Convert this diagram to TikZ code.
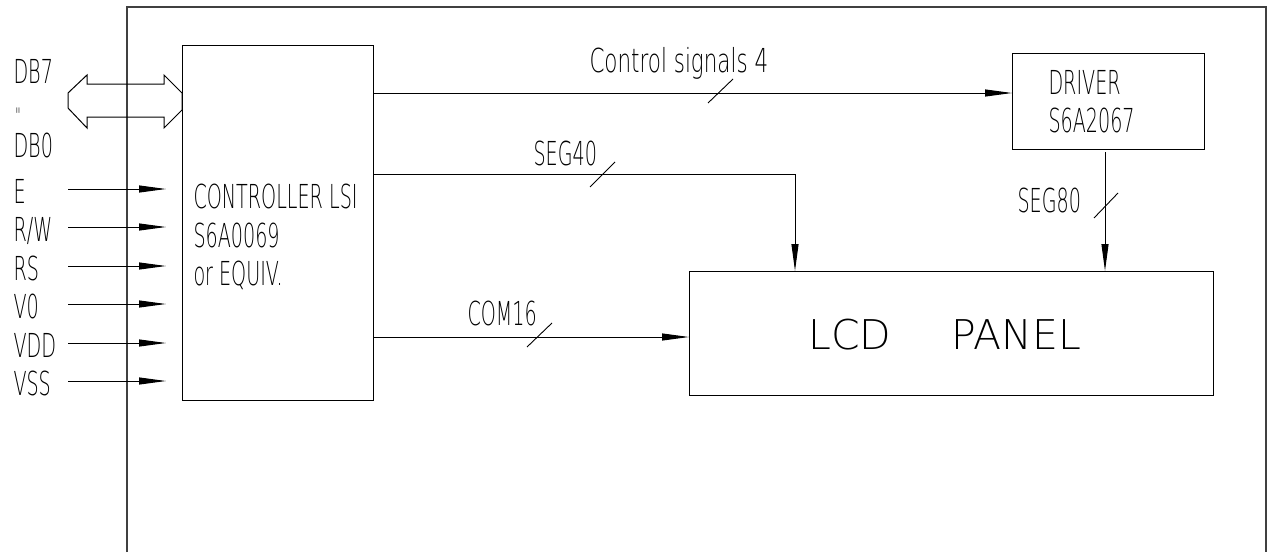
\documentclass[tikz,border=0pt]{standalone}
\usepackage{fontspec}
\setmainfont{DejaVu Sans ExtraLight}
\newfontfamily\cadn{DejaVu Sans ExtraLight}[FakeStretch=0.58]
\newfontfamily\cadw{DejaVu Sans ExtraLight}[FakeStretch=0.65]
\usetikzlibrary{arrows.meta}
\begin{document}
\begin{tikzpicture}[x=1pt,y=-1pt,line width=1pt,
  >={Triangle[length=27pt,width=7pt]},
  box/.style={draw,line width=1pt,inner sep=0pt,outer sep=0pt,anchor=north west},
  lbl/.style={anchor=base west,inner sep=0pt,font=\cadn\fontsize{33}{33}\selectfont},
  lblw/.style={anchor=base west,inner sep=0pt,font=\cadw\fontsize{33}{33}\selectfont},
  big/.style={anchor=base west,inner sep=0pt,font=\fontsize{41}{42}\selectfont},
  sig/.style={->},
  tick/.style={line width=0.9pt},
  frame/.style={line width=1.3pt,draw=black!75}]
\useasboundingbox (0,0) rectangle (1267,552);
% outer frame
\draw[frame] (127,552) -- (127,7) -- (1266,7) -- (1266,552);
% boxes
\node[box,minimum width=191pt,minimum height=355pt] (ctrl) at (182,45) {};
\node[box,minimum width=192pt,minimum height=96pt] (driver) at (1012,53) {};
\node[box,minimum width=524pt,minimum height=124pt] (lcd) at (689,271) {};
% box texts
\node[lbl] (c1) at (193,208) {CONTROLLER LSI};
\node[lbl] (c2) at (193,247) {S6A0069};
\node[lbl] (c3) at (193,285) {or EQUIV.};
\node[lbl] (d1) at (1048,94) {DRIVER};
\node[lbl] (d2) at (1048,132) {S6A2067};
\node[big] (lcdt) at (808,349) {LCD};
\node[big] (pant) at (951,349) {PANEL};
% data bus double arrow
\draw[line width=1pt] (87,84) -- (87,75) -- (68,93) -- (68,108) -- (87,128) -- (87,117)
  -- (164,117) -- (164,128) -- (182,110) -- (182,93) -- (164,75) -- (164,84) -- cycle;
\node[lbl] (db7) at (13,83) {DB7};
\node[lbl,font=\cadn\fontsize{20}{20}\selectfont] (dbd) at (15,122) {"};
\node[lbl] (db0) at (13,157) {DB0};
% input signals
\coordinate (inE) at (68,189);
\coordinate (inRW) at (68,227);
\coordinate (inRS) at (68,266);
\coordinate (inV0) at (68,304);
\coordinate (inVDD) at (68,343);
\coordinate (inVSS) at (68,381);
\foreach \c in {inE,inRW,inRS,inV0,inVDD,inVSS}
  \draw[sig,shorten >=16pt] (\c) -- (\c -| ctrl.west);
\node[lbl] (lE) at (13,203.5) {E};
\node[lbl] (lRW) at (13,241.5) {R/W};
\node[lbl] (lRS) at (13,280.5) {RS};
\node[lbl] (lV0) at (13,318.5) {V0};
\node[lbl] (lVDD) at (13,357.5) {VDD};
\node[lbl] (lVSS) at (13,395.5) {VSS};
% control signals
\coordinate (cs) at (0,93);
\draw[sig] (ctrl.east |- cs) -- (driver.west |- cs);
\draw[tick] (708,103) -- (733,79);
\node[lblw] (cst) at (589,72) {Control signals 4};
% SEG40
\coordinate (s40) at (795,174);
\draw[sig] (ctrl.east |- s40) -| (lcd.north -| s40);
\draw[tick] (590,187) -- (615,162);
\node[lbl] (s40t) at (533,165) {SEG40};
% COM16
\coordinate (c16) at (0,337);
\draw[sig] (ctrl.east |- c16) -- (lcd.west |- c16);
\draw[tick] (527,347) -- (552,323);
\node[lbl] (c16t) at (467,325) {COM16};
% SEG80
\coordinate (s80) at (1105,152);
\draw[sig] (s80) -- (lcd.north -| s80);
\draw[tick] (1094,218) -- (1118,193);
\node[lbl] (s80t) at (1017,212) {SEG80};
\end{tikzpicture}
\end{document}
